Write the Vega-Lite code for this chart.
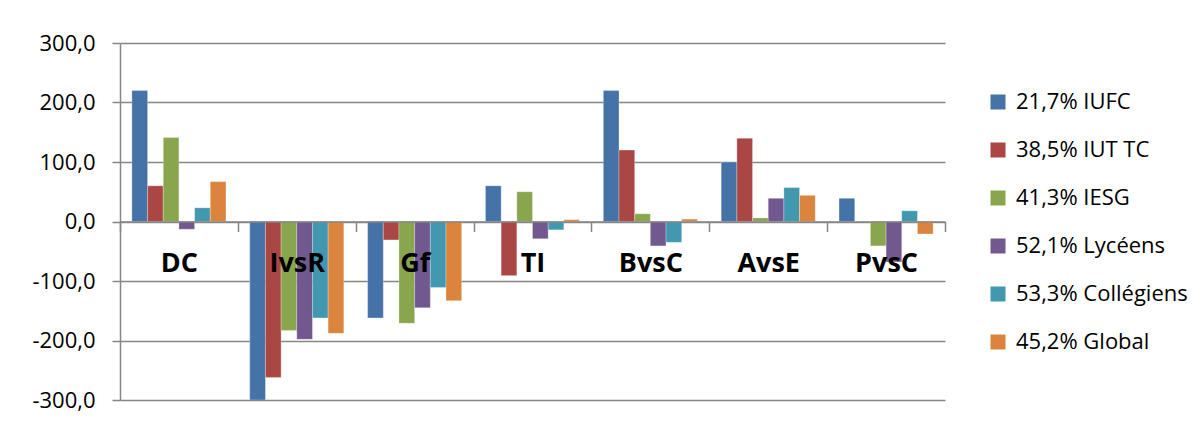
{
  "$schema": "https://vega.github.io/schema/vega-lite/v6.json",
  "width": 825,
  "height": 357,
  "autosize": {"type": "none"},
  "padding": {"left": 120, "top": 43, "right": 259, "bottom": 26},
  "background": "white",
  "config": {
    "locale": {"number": {"decimal": ",", "thousands": " ", "grouping": [3], "currency": ["", " €"], "minus": "-"}},
    "view": {"stroke": null},
    "font": "Open Sans"
  },
  "data": {
    "values": [
      {"cat": "DC", "serie": "21,7% IUFC", "v": 220},
      {"cat": "DC", "serie": "38,5% IUT TC", "v": 60},
      {"cat": "DC", "serie": "41,3% IESG", "v": 141},
      {"cat": "DC", "serie": "52,1% Lycéens", "v": -13},
      {"cat": "DC", "serie": "53,3% Collégiens", "v": 23},
      {"cat": "DC", "serie": "45,2% Global", "v": 67},
      {"cat": "IvsR", "serie": "21,7% IUFC", "v": -300},
      {"cat": "IvsR", "serie": "38,5% IUT TC", "v": -262},
      {"cat": "IvsR", "serie": "41,3% IESG", "v": -183},
      {"cat": "IvsR", "serie": "52,1% Lycéens", "v": -198},
      {"cat": "IvsR", "serie": "53,3% Collégiens", "v": -162},
      {"cat": "IvsR", "serie": "45,2% Global", "v": -188},
      {"cat": "Gf", "serie": "21,7% IUFC", "v": -162},
      {"cat": "Gf", "serie": "38,5% IUT TC", "v": -31},
      {"cat": "Gf", "serie": "41,3% IESG", "v": -171},
      {"cat": "Gf", "serie": "52,1% Lycéens", "v": -145},
      {"cat": "Gf", "serie": "53,3% Collégiens", "v": -111},
      {"cat": "Gf", "serie": "45,2% Global", "v": -133},
      {"cat": "TI", "serie": "21,7% IUFC", "v": 60},
      {"cat": "TI", "serie": "38,5% IUT TC", "v": -91},
      {"cat": "TI", "serie": "41,3% IESG", "v": 50},
      {"cat": "TI", "serie": "52,1% Lycéens", "v": -29},
      {"cat": "TI", "serie": "53,3% Collégiens", "v": -14},
      {"cat": "TI", "serie": "45,2% Global", "v": 3},
      {"cat": "BvsC", "serie": "21,7% IUFC", "v": 220},
      {"cat": "BvsC", "serie": "38,5% IUT TC", "v": 120},
      {"cat": "BvsC", "serie": "41,3% IESG", "v": 13},
      {"cat": "BvsC", "serie": "52,1% Lycéens", "v": -41},
      {"cat": "BvsC", "serie": "53,3% Collégiens", "v": -35},
      {"cat": "BvsC", "serie": "45,2% Global", "v": 4},
      {"cat": "AvsE", "serie": "21,7% IUFC", "v": 100},
      {"cat": "AvsE", "serie": "38,5% IUT TC", "v": 140},
      {"cat": "AvsE", "serie": "41,3% IESG", "v": 6},
      {"cat": "AvsE", "serie": "52,1% Lycéens", "v": 39},
      {"cat": "AvsE", "serie": "53,3% Collégiens", "v": 57},
      {"cat": "AvsE", "serie": "45,2% Global", "v": 44},
      {"cat": "PvsC", "serie": "21,7% IUFC", "v": 39},
      {"cat": "PvsC", "serie": "38,5% IUT TC", "v": 0},
      {"cat": "PvsC", "serie": "41,3% IESG", "v": -41},
      {"cat": "PvsC", "serie": "52,1% Lycéens", "v": -68},
      {"cat": "PvsC", "serie": "53,3% Collégiens", "v": 18},
      {"cat": "PvsC", "serie": "45,2% Global", "v": -21}
    ]
  },
  "mark": {"type": "bar", "clip": true, "stroke": "white", "strokeOpacity": 0.35, "strokeWidth": 0.8},
  "encoding": {
    "x": {
      "field": "cat",
      "type": "nominal",
      "sort": ["DC", "IvsR", "Gf", "TI", "BvsC", "AvsE", "PvsC"],
      "scale": {"paddingInner": 0, "paddingOuter": 0},
      "axis": {
        "title": null,
        "orient": "bottom",
        "offset": -178.5,
        "zindex": 1,
        "labelAngle": 0,
        "labelFont": "Open Sans",
        "labelFontWeight": "bold",
        "labelFontSize": 27,
        "labelColor": "black",
        "labelPadding": 19,
        "tickBand": "extent",
        "tickSize": 10,
        "tickColor": "#868686",
        "tickWidth": 1.5,
        "domainColor": "#868686",
        "domainWidth": 1.5,
        "grid": false
      }
    },
    "xOffset": {
      "field": "serie",
      "type": "nominal",
      "sort": null,
      "scale": {"paddingInner": 0, "paddingOuter": 0.76}
    },
    "y": {
      "field": "v",
      "type": "quantitative",
      "scale": {"domain": [-300, 300], "nice": false, "zero": true},
      "axis": {
        "title": null,
        "values": [-300, -200, -100, 0, 100, 200, 300],
        "format": ".1f",
        "labelFont": "Open Sans",
        "labelFontSize": 22,
        "labelColor": "black",
        "labelPadding": 17,
        "tickSize": 8,
        "tickColor": "#868686",
        "tickWidth": 1.5,
        "domainColor": "#868686",
        "domainWidth": 1.5,
        "grid": true,
        "gridColor": "#868686",
        "gridWidth": 1.5
      }
    },
    "color": {
      "field": "serie",
      "type": "nominal",
      "scale": {
        "domain": ["21,7% IUFC", "38,5% IUT TC", "41,3% IESG", "52,1% Lycéens", "53,3% Collégiens", "45,2% Global"],
        "range": ["#4572A7", "#AA4643", "#89A54E", "#71588F", "#4198AF", "#DB843D"]
      },
      "legend": {
        "title": null,
        "orient": "none",
        "legendX": 867,
        "legendY": 48,
        "padding": 0,
        "symbolType": "square",
        "symbolSize": 225,
        "symbolStrokeWidth": 0,
        "labelFont": "Open Sans",
        "labelFontSize": 22,
        "labelColor": "black",
        "labelOffset": 7,
        "labelLimit": 400,
        "rowPadding": 26
      }
    }
  }
}
